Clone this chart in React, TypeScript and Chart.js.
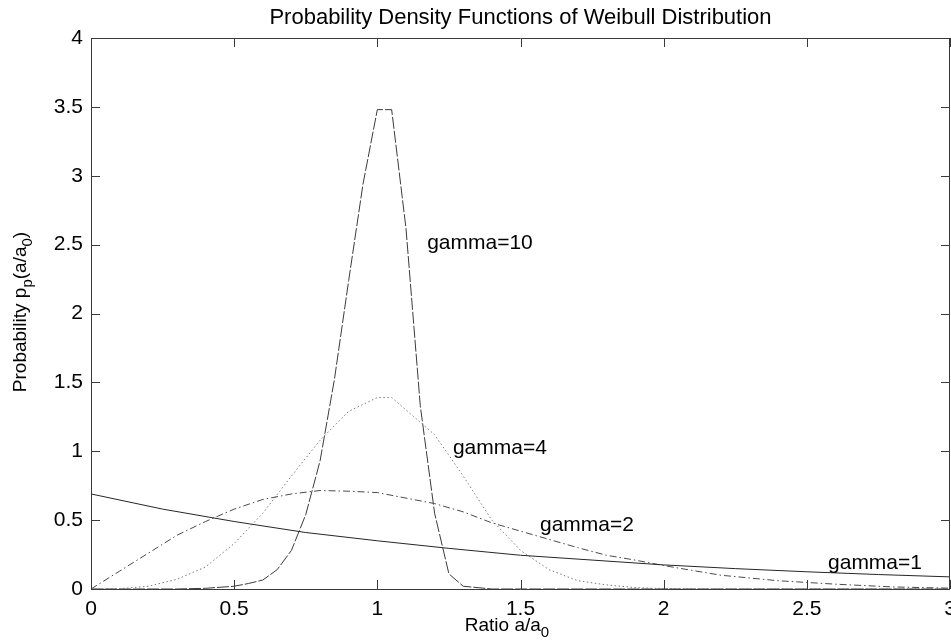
import React, { useEffect, useRef } from "react";
import { Chart, registerables } from "chart.js";

Chart.register(...registerables);

const TITLE = "Probability Density Functions of Weibull Distribution";
const X_MIN = 0;
const X_MAX = 3;
const X_STEP = 0.5;
const Y_MIN = 0;
const Y_MAX = 4;
const Y_STEP = 0.5;

// gamma = 1
const x1 = [0, 0.25, 0.5, 0.75, 1.0, 1.25, 1.5, 1.75, 2.0, 2.25, 2.5, 2.75, 3.0];
const y1 = [0.69, 0.58, 0.49, 0.41, 0.35, 0.295, 0.245, 0.21, 0.175, 0.148, 0.125, 0.105, 0.088];

// gamma = 2
const x2 = [0, 0.1, 0.2, 0.3, 0.4, 0.5, 0.6, 0.7, 0.8, 0.9, 1.0, 1.1, 1.2, 1.3, 1.4, 1.5, 1.6, 1.7, 1.8, 1.9, 2.0, 2.2, 2.4, 2.6, 2.8, 3.0];
const y2 = [0, 0.13, 0.26, 0.39, 0.49, 0.58, 0.65, 0.69, 0.715, 0.71, 0.7, 0.66, 0.62, 0.56, 0.48, 0.42, 0.36, 0.3, 0.245, 0.21, 0.17, 0.1, 0.06, 0.035, 0.015, 0.006];

// gamma = 4
const x4 = [0, 0.1, 0.2, 0.3, 0.4, 0.5, 0.6, 0.7, 0.8, 0.9, 1.0, 1.05, 1.1, 1.2, 1.3, 1.4, 1.5, 1.6, 1.7, 1.8, 1.9, 2.0, 2.2, 3.0];
const y4 = [0, 0.002, 0.02, 0.07, 0.16, 0.33, 0.55, 0.82, 1.08, 1.29, 1.39, 1.39, 1.3, 1.12, 0.82, 0.5, 0.28, 0.14, 0.06, 0.03, 0.01, 0.003, 0, 0];

// gamma = 10
const x10 = [0, 0.3, 0.4, 0.5, 0.55, 0.6, 0.65, 0.7, 0.75, 0.8, 0.85, 0.9, 0.95, 1.0, 1.05, 1.1, 1.15, 1.2, 1.25, 1.3, 1.4, 3.0];
const y10 = [0, 0, 0.005, 0.02, 0.04, 0.065, 0.14, 0.28, 0.54, 0.93, 1.52, 2.24, 2.94, 3.48, 3.48, 2.62, 1.33, 0.55, 0.11, 0.02, 0, 0];

// curve labels: text, x, y (data coords of the text's left/middle)
const labelTexts = ["gamma=10", "gamma=4", "gamma=2", "gamma=1"];
const labelX = [1.174, 1.264, 1.568, 2.574];
const labelY = [2.51, 1.02, 0.465, 0.19];

const FONT = "'Liberation Sans', Arial, Helvetica, sans-serif";
const FS_TICK = 21;
const FS_TITLE = 22;
const FS_LABEL = 21;
const FS_AXIS = 19;

function pts(xs: number[], ys: number[]) {
  return xs.map((x, i) => ({ x, y: ys[i] }));
}

type Part = { t: string; sub?: boolean };

function drawRich(ctx: CanvasRenderingContext2D, parts: Part[], cx: number, cy: number, size: number) {
  const subSize = Math.round(size * 0.78);
  let total = 0;
  const widths = parts.map((p) => {
    ctx.font = `${p.sub ? subSize : size}px ${FONT}`;
    const w = ctx.measureText(p.t).width;
    total += w;
    return w;
  });
  let x = cx - total / 2;
  ctx.textBaseline = "middle";
  ctx.textAlign = "left";
  parts.forEach((p, i) => {
    ctx.font = `${p.sub ? subSize : size}px ${FONT}`;
    ctx.fillText(p.t, x, p.sub ? cy + size * 0.35 : cy);
    x += widths[i];
  });
}

const matlabPlugin = {
  id: "matlabAxes",
  afterDraw(chart: any) {
    const ctx: CanvasRenderingContext2D = chart.ctx;
    const { left, right, top, bottom } = chart.chartArea;
    const xs = chart.scales.x;
    const ys = chart.scales.y;
    ctx.save();
    // box
    ctx.strokeStyle = "#3a3a3a";
    ctx.lineWidth = 1;
    ctx.beginPath();
    ctx.rect(Math.round(left) + 0.5, Math.round(top) + 0.5, Math.round(right - left) - 1, Math.round(bottom - top));
    ctx.stroke();
    // inward ticks
    const tl = 9;
    ctx.beginPath();
    xs.ticks.forEach((t: any) => {
      const px = Math.round(xs.getPixelForValue(t.value)) + 0.5;
      ctx.moveTo(px, bottom);
      ctx.lineTo(px, bottom - tl);
      ctx.moveTo(px, top);
      ctx.lineTo(px, top + tl);
    });
    ys.ticks.forEach((t: any) => {
      const py = Math.round(ys.getPixelForValue(t.value)) + 0.5;
      ctx.moveTo(left, py);
      ctx.lineTo(left + tl, py);
      ctx.moveTo(right, py);
      ctx.lineTo(right - tl, py);
    });
    ctx.stroke();

    ctx.fillStyle = "#000";
    // title
    ctx.font = `${FS_TITLE}px ${FONT}`;
    ctx.textAlign = "center";
    ctx.textBaseline = "middle";
    ctx.fillText(TITLE, (left + right) / 2, 18);

    // x axis title
    drawRich(ctx, [{ t: "Ratio a/a" }, { t: "0", sub: true }], 507, 626, FS_AXIS);

    // y axis title
    ctx.save();
    ctx.translate(21, 312);
    ctx.rotate(-Math.PI / 2);
    drawRich(
      ctx,
      [{ t: "Probability p" }, { t: "p", sub: true }, { t: "(a/a" }, { t: "0", sub: true }, { t: ")" }],
      0,
      0,
      FS_AXIS
    );
    ctx.restore();

    // curve labels
    ctx.font = `${FS_LABEL}px ${FONT}`;
    ctx.textAlign = "left";
    ctx.textBaseline = "middle";
    labelTexts.forEach((txt, i) => {
      ctx.fillText(txt, xs.getPixelForValue(labelX[i]), ys.getPixelForValue(labelY[i]));
    });
    ctx.restore();
  },
};

const fmt = (v: any) => String(Math.round(Number(v) * 100) / 100);

export default function App() {
  const ref = useRef<HTMLCanvasElement | null>(null);
  useEffect(() => {
    document.body.style.margin = "0";
    const canvas = ref.current;
    if (!canvas) return;
    const common = { pointRadius: 0, borderWidth: 1, fill: false, tension: 0 };
    const chart = new Chart(canvas, {
      type: "line",
      data: {
        datasets: [
          { label: "gamma=1", data: pts(x1, y1), borderColor: "#262626", ...common },
          { label: "gamma=2", data: pts(x2, y2), borderColor: "#4a4a4a", borderDash: [7, 3, 1.5, 3], ...common },
          { label: "gamma=4", data: pts(x4, y4), borderColor: "#7a7a7a", borderDash: [1.5, 2.5], ...common },
          { label: "gamma=10", data: pts(x10, y10), borderColor: "#3a3a3a", borderDash: [12, 2], ...common },
        ],
      },
      options: {
        animation: false,
        responsive: true,
        maintainAspectRatio: false,
        layout: { padding: { top: 38, right: 1, left: 0, bottom: 0 } },
        plugins: { legend: { display: false }, title: { display: false }, tooltip: { enabled: false } },
        scales: {
          x: {
            type: "linear",
            min: X_MIN,
            max: X_MAX,
            grid: { drawOnChartArea: false, drawTicks: false },
            border: { display: false },
            ticks: { stepSize: X_STEP, padding: 8, color: "#000", font: { family: FONT, size: FS_TICK }, maxRotation: 0, callback: fmt },
            afterFit: (s: any) => {
              s.height = 53;
              s.paddingLeft = 0;
              s.paddingRight = 0;
            },
          },
          y: {
            type: "linear",
            min: Y_MIN,
            max: Y_MAX,
            grid: { drawOnChartArea: false, drawTicks: false },
            border: { display: false },
            ticks: { stepSize: Y_STEP, padding: 8, color: "#000", font: { family: FONT, size: FS_TICK }, callback: fmt },
            afterFit: (s: any) => {
              s.width = 91;
              s.paddingTop = 0;
              s.paddingBottom = 0;
            },
          },
        },
      },
      plugins: [matlabPlugin],
    } as any);
    return () => chart.destroy();
  }, []);
  return (
    <div style={{ width: 951, height: 642, position: "relative", background: "#fff" }}>
      <canvas ref={ref} />
    </div>
  );
}
